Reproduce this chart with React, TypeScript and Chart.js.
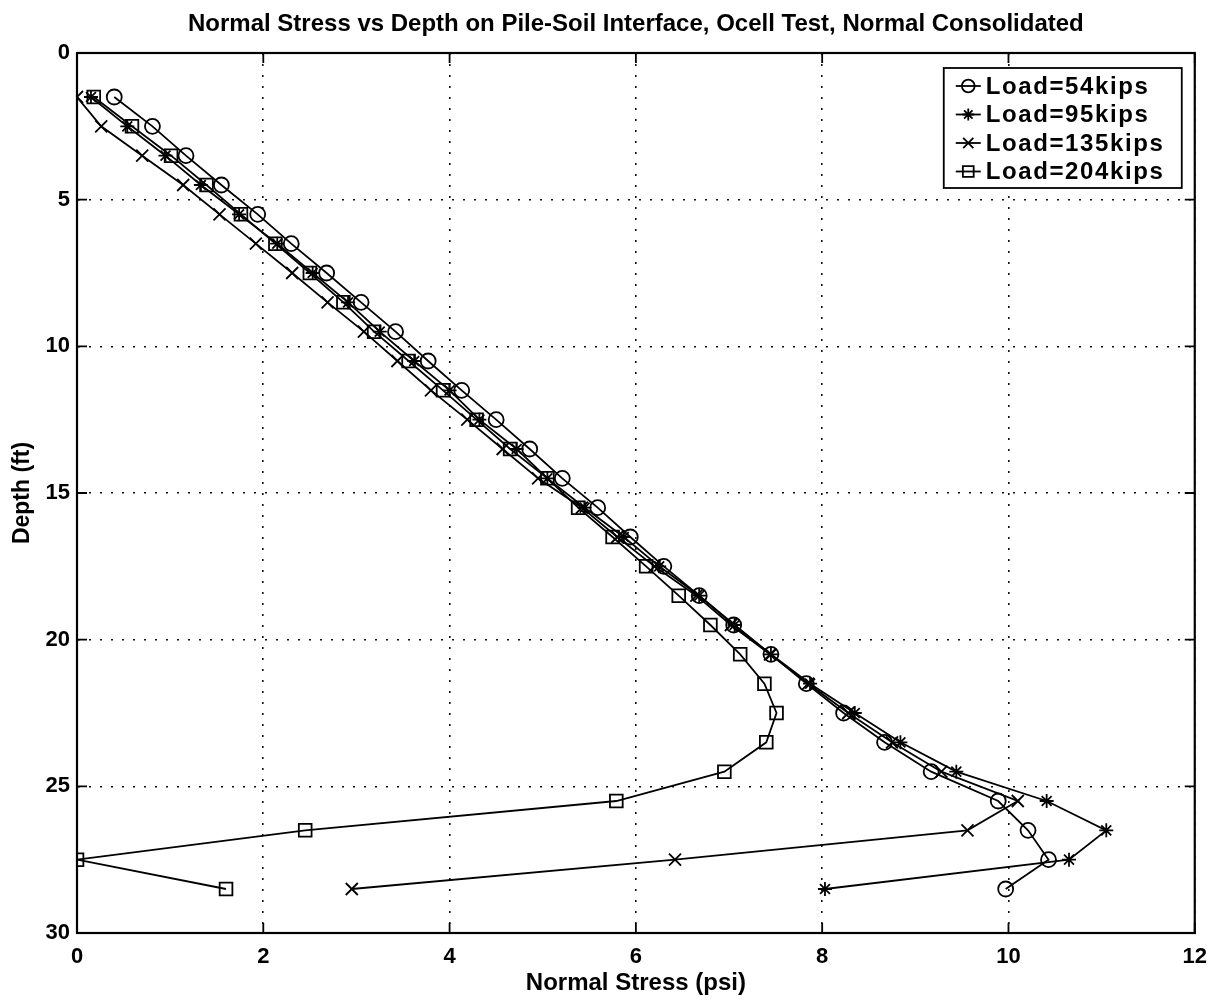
import React, { useEffect, useRef } from 'react';
import { Chart, registerables } from 'chart.js';
import { drawPoint } from 'chart.js/helpers';

Chart.register(...registerables);

const titleText = 'Normal Stress vs Depth on Pile-Soil Interface, Ocell Test, Normal Consolidated';
const xAxisTitle = 'Normal Stress (psi)';
const yAxisTitle = 'Depth (ft)';

const depths = [
  1.5, 2.5, 3.5, 4.5, 5.5, 6.5, 7.5, 8.5, 9.5, 10.5, 11.5, 12.5, 13.5, 14.5,
  15.5, 16.5, 17.5, 18.5, 19.5, 20.5, 21.5, 22.5, 23.5, 24.5, 25.5, 26.5, 27.5, 28.5,
];

const load54 = [
  0.40, 0.81, 1.17, 1.55, 1.94, 2.30, 2.68, 3.05, 3.42, 3.77, 4.13, 4.50, 4.86, 5.21,
  5.59, 5.94, 6.30, 6.68, 7.05, 7.45, 7.83, 8.23, 8.67, 9.17, 9.89, 10.21, 10.43, 9.97,
];

const load95 = [
  0.15, 0.54, 0.95, 1.33, 1.74, 2.15, 2.53, 2.91, 3.25, 3.62, 4.00, 4.32, 4.72, 5.05,
  5.45, 5.87, 6.25, 6.68, 7.06, 7.45, 7.87, 8.35, 8.84, 9.44, 10.41, 11.05, 10.65, 8.03,
];

const load135 = [
  0.0, 0.26, 0.70, 1.14, 1.53, 1.92, 2.31, 2.69, 3.08, 3.44, 3.80, 4.19, 4.57, 4.95,
  5.42, 5.80, 6.20, 6.65, 7.02, 7.44, 7.85, 8.28, 8.75, 9.28, 10.10, 9.56, 6.42, 2.95,
];

const load204 = [
  0.18, 0.59, 1.01, 1.39, 1.76, 2.13, 2.50, 2.86, 3.19, 3.56, 3.93, 4.29, 4.65, 5.05,
  5.38, 5.75, 6.11, 6.46, 6.80, 7.12, 7.38, 7.51, 7.40, 6.95, 5.79, 2.45, 0.0, 1.60,
];

const seriesLabels = ['Load=54kips', 'Load=95kips', 'Load=135kips', 'Load=204kips'];
const seriesValues = [load54, load95, load135, load204];
const seriesMarkers = ['circle', 'star', 'crossRot', 'rect'];
const seriesMarkerSizes = [7.5, 7, 8.5, 9];

const xMin = 0;
const xMax = 12;
const xStep = 2;
const yMin = 0;
const yMax = 30;
const yStep = 5;

const FONT = '"Liberation Sans", Arial, Helvetica, sans-serif';

const framePlugin = {
  id: 'matlabFrame',
  afterLayout(chart: any) {
    // center the title over the axes, like MATLAB
    const tb = chart.titleBlock;
    if (tb) {
      tb.left = chart.chartArea.left;
      tb.right = chart.chartArea.right;
    }
  },
  afterDraw(chart: any) {
    const { ctx, chartArea: a, scales } = chart;
    ctx.save();
    ctx.strokeStyle = '#000';
    ctx.lineWidth = 2.2;
    ctx.setLineDash([]);
    ctx.strokeRect(a.left, a.top, a.right - a.left, a.bottom - a.top);

    // inward tick marks
    const tl = 10;
    ctx.lineWidth = 1.8;
    scales.x.ticks.forEach((t: any) => {
      const px = scales.x.getPixelForValue(t.value);
      ctx.beginPath();
      ctx.moveTo(px, a.bottom);
      ctx.lineTo(px, a.bottom - tl);
      ctx.moveTo(px, a.top);
      ctx.lineTo(px, a.top + tl);
      ctx.stroke();
    });
    scales.y.ticks.forEach((t: any) => {
      const py = scales.y.getPixelForValue(t.value);
      ctx.beginPath();
      ctx.moveTo(a.left, py);
      ctx.lineTo(a.left + tl, py);
      ctx.moveTo(a.right, py);
      ctx.lineTo(a.right - tl, py);
      ctx.stroke();
    });

    // legend box (upper right, inside axes)
    const lw = 238;
    const lh = 120;
    const lx = a.right - 13 - lw;
    const ly = a.top + 15;
    ctx.fillStyle = '#fff';
    ctx.fillRect(lx, ly, lw, lh);
    ctx.lineWidth = 1.8;
    ctx.strokeRect(lx, ly, lw, lh);
    ctx.font = `bold 24px ${FONT}`;
    ctx.textBaseline = 'middle';
    ctx.textAlign = 'left';
    try {
      (ctx as any).letterSpacing = '1.6px';
    } catch (e) {}
    chart.data.datasets.forEach((ds: any, i: number) => {
      const cy = ly + 18 + i * 28.5;
      ctx.strokeStyle = '#000';
      ctx.lineWidth = 1.8;
      ctx.beginPath();
      ctx.moveTo(lx + 12, cy);
      ctx.lineTo(lx + 37, cy);
      ctx.stroke();
      ctx.fillStyle = 'rgba(0,0,0,0)';
      drawPoint(
        ctx,
        { pointStyle: ds.pointStyle, radius: ds.pointRadius * 0.85, borderWidth: 1.8, rotation: 0 } as any,
        lx + 24.5,
        cy
      );
      ctx.fillStyle = '#000';
      ctx.fillText(ds.label, lx + 42, cy + 1);
    });
    ctx.restore();
  },
};

export default function App() {
  const canvasRef = useRef<HTMLCanvasElement | null>(null);

  useEffect(() => {
    if (!canvasRef.current) return;
    const datasets = seriesLabels.map((label, s) => ({
      label,
      data: depths.map((d, i) => ({ x: seriesValues[s][i], y: d })),
      showLine: true,
      borderColor: '#000',
      backgroundColor: 'rgba(0,0,0,0)',
      borderWidth: 1.8,
      pointStyle: seriesMarkers[s] as any,
      pointRadius: seriesMarkerSizes[s],
      pointBorderWidth: 1.8,
      pointBorderColor: '#000',
      pointBackgroundColor: 'rgba(0,0,0,0)',
      tension: 0,
    }));

    const chart = new Chart(canvasRef.current, {
      type: 'scatter',
      data: { datasets },
      plugins: [framePlugin],
      options: {
        animation: false,
        responsive: true,
        maintainAspectRatio: false,
        layout: { padding: { left: 0, right: 13, top: 0, bottom: 0 } },
        plugins: {
          legend: { display: false },
          tooltip: { enabled: false },
          title: {
            display: true,
            text: titleText,
            color: '#000',
            font: { family: FONT, size: 24, weight: 'bold', lineHeight: 1.2 },
            padding: { top: 10, bottom: 14.2 },
          },
        },
        scales: {
          x: {
            type: 'linear',
            position: 'bottom',
            min: xMin,
            max: xMax,
            afterFit: (scale: any) => {
              scale.height = 71;
            },
            ticks: {
              stepSize: xStep,
              color: '#000',
              padding: 11,
              font: { family: FONT, size: 22, weight: 'bold' },
            },
            grid: {
              color: '#111',
              lineWidth: 1.6,
              drawTicks: false,
            },
            border: { display: true, color: '#000', width: 2, dash: [2, 9] },
            title: {
              display: true,
              text: xAxisTitle,
              color: '#000',
              font: { family: FONT, size: 24, weight: 'bold', lineHeight: 1.2 },
              padding: { top: 0, bottom: 6 },
            },
          },
          y: {
            type: 'linear',
            reverse: true,
            min: yMin,
            max: yMax,
            afterFit: (scale: any) => {
              scale.width = 77;
            },
            ticks: {
              stepSize: yStep,
              color: '#000',
              padding: 7,
              font: { family: FONT, size: 22, weight: 'bold' },
            },
            grid: {
              color: '#111',
              lineWidth: 1.6,
              drawTicks: false,
            },
            border: { display: true, color: '#000', width: 2, dash: [2, 9] },
            title: {
              display: true,
              text: yAxisTitle,
              color: '#000',
              font: { family: FONT, size: 23, weight: 'bold', lineHeight: 1.2 },
              padding: { top: 9, bottom: 0 },
            },
          },
        },
      },
    });
    return () => chart.destroy();
  }, []);

  return (
    <div
      style={{
        position: 'fixed',
        left: 0,
        top: 0,
        width: 1218,
        height: 1004,
        background: '#fff',
      }}
    >
      <canvas ref={canvasRef} />
    </div>
  );
}
